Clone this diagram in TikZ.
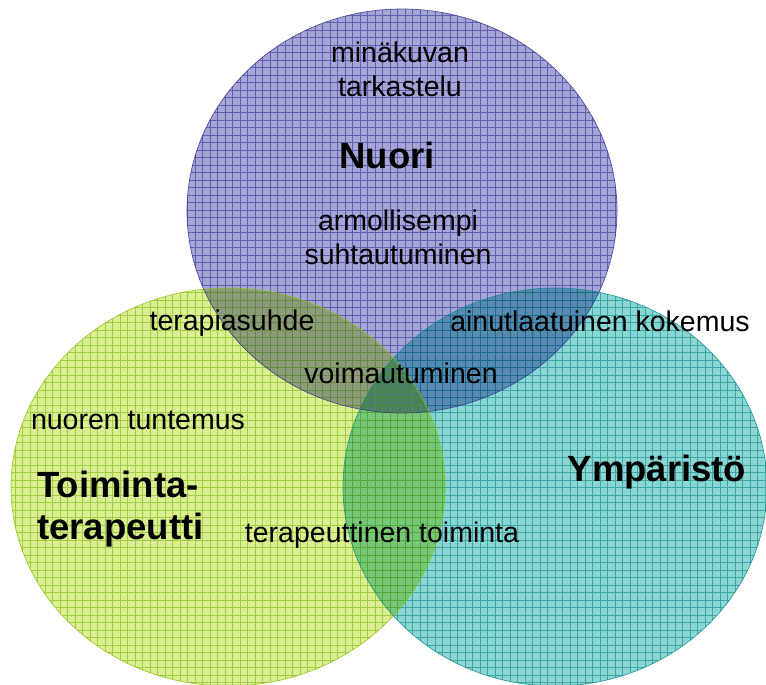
\documentclass[tikz,border=0pt]{standalone}
\usepackage{fontspec}
\setmainfont{Liberation Sans}
\usetikzlibrary{positioning}

\definecolor{nuorifill}{RGB}{165,165,214}
\definecolor{nuoriline}{RGB}{40,40,150}
\definecolor{nuoriedge}{RGB}{50,50,140}
\definecolor{terfill}{RGB}{220,238,148}
\definecolor{terline}{RGB}{110,180,0}
\definecolor{teredge}{RGB}{140,195,20}
\definecolor{ympfill}{RGB}{138,214,210}
\definecolor{ympline}{RGB}{0,128,130}
\definecolor{ympedge}{RGB}{20,140,140}

\begin{document}
\begin{tikzpicture}[x=1pt,y=-1pt]
\tikzset{every node/.style={inner sep=0pt, align=center, font=\fontsize{28.5}{34}\selectfont},
  otsikko/.style={font=\fontsize{36.5}{42}\selectfont\bfseries},
  ruudukko/.style={line width=0.7pt, opacity=0.55, step=7.5pt},
  reuna/.style={line width=0.7pt, opacity=0.8}}
\useasboundingbox (0,0) rectangle (766,685);
% pohjavarit
\begin{scope}[blend group=multiply]
\fill [nuorifill] (402,211) ellipse [x radius=215pt, y radius=202pt];
\fill [ympfill] (555,487) ellipse [x radius=212pt, y radius=199pt];
\fill [terfill] (228,487) ellipse [x radius=217pt, y radius=199pt];
\end{scope}
% ruudukot
\begin{scope}
\clip (402,211) ellipse [x radius=215pt, y radius=202pt];
\draw [ruudukko, nuoriline] (180,0) grid (630,420);
\end{scope}
\begin{scope}
\clip (555,487) ellipse [x radius=212pt, y radius=199pt];
\draw [ruudukko, ympline] (330,280) grid (770,690);
\end{scope}
\begin{scope}
\clip (228,487) ellipse [x radius=217pt, y radius=199pt];
\draw [ruudukko, terline] (0,280) grid (450,690);
\end{scope}
% reunat
\draw [reuna, nuoriedge] (402,211) ellipse [x radius=215pt, y radius=202pt];
\draw [reuna, ympedge] (555,487) ellipse [x radius=212pt, y radius=199pt];
\draw [reuna, teredge] (228,487) ellipse [x radius=217pt, y radius=199pt];

\node (minakuva) at (400,69) {minäkuvan\\tarkastelu};
\node [otsikko] (nuori) at (387,155) {Nuori};
\node (armo) at (398,237) {armollisempi\\suhtautuminen};
\node (suhde) at (232,323) {terapiasuhde};
\node (kokemus) at (600,321) {ainutlaatuinen kokemus};
\node (voima) at (401,373) {voimautuminen};
\node (tuntemus) at (138,420) {nuoren tuntemus};
\node [otsikko, anchor=west, align=left] (terapeutti) at (37,509) {Toiminta-\\terapeutti};
\node [otsikko] (ymparisto) at (657,472) {Ympäristö};
\node (toiminta) at (382,535) {terapeuttinen toiminta};
\end{tikzpicture}
\end{document}
